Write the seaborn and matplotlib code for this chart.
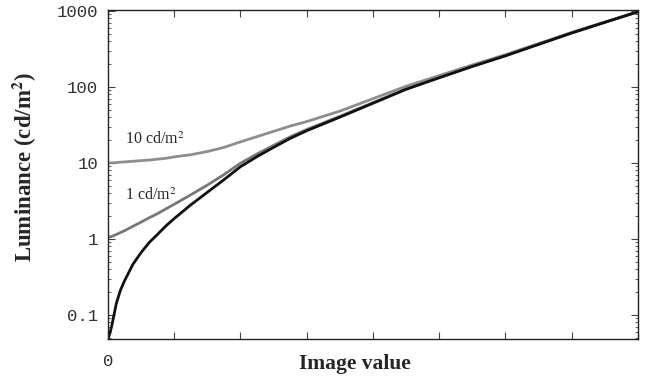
import numpy as np
import pandas as pd
import matplotlib
matplotlib.use("Agg")
import matplotlib.pyplot as plt
import seaborn as sns
from matplotlib.ticker import LogLocator, FixedLocator, NullFormatter, FixedFormatter

sns.set_style("ticks")
plt.rcParams["font.family"] = ["Liberation Serif", "DejaVu Serif"]
plt.rcParams["mathtext.fontset"] = "stix"

# image value samples and luminance
image_value = [0, 1, 2, 4, 6, 8, 12, 16, 20, 24, 28, 32, 40, 48, 56, 64, 72,
               80, 88, 96, 112, 128, 144, 160, 176, 192, 208, 224, 240, 256]
lum_dark = [0.048, 0.058, 0.075, 0.14, 0.21, 0.28, 0.46, 0.66, 0.9, 1.15,
            1.48, 1.85, 2.8, 4.1, 6.0, 8.9, 12.1, 16, 21, 26.5, 40, 61, 93,
            132, 186, 257, 363, 513, 708, 975]
lum_amb1 = [1.05, 1.06, 1.08, 1.14, 1.21, 1.28, 1.46, 1.66, 1.9, 2.15,
            2.48, 2.85, 3.8, 5.1, 7.0, 9.9, 13.1, 17, 22, 27.5, 41, 62, 94,
            133, 187, 258, 364, 514, 709, 976]
lum_amb10 = [10, 10.0, 10.0, 10.1, 10.2, 10.3, 10.5, 10.7, 10.9, 11.2,
             11.5, 12, 12.8, 14.1, 16, 18.9, 22.2, 26, 30.5, 35, 48, 70, 102,
             141, 195, 266, 372, 522, 717, 980]

df = pd.DataFrame({"x": image_value, "dark": lum_dark,
                   "amb1": lum_amb1, "amb10": lum_amb10})

fig = plt.figure(figsize=(6.45, 3.76), dpi=100)
ax = fig.add_axes([0.1674, 0.0984, 0.8216, 0.875])

sns.lineplot(data=df, x="x", y="amb10", ax=ax, color="#8e8e8e", lw=2.0)
sns.lineplot(data=df, x="x", y="amb1", ax=ax, color="#777777", lw=2.0)
sns.lineplot(data=df, x="x", y="dark", ax=ax, color="#111111", lw=2.0)

ax.set_yscale("log")
ax.set_xlim(0, 256)
ax.set_ylim(0.048, 1030)

ax.xaxis.set_major_locator(FixedLocator(list(range(0, 257, 32))))
ax.xaxis.set_major_formatter(FixedFormatter(["0"] + [""] * 8))
ax.yaxis.set_major_locator(FixedLocator([0.1, 1, 10, 100, 1000]))
ax.yaxis.set_major_formatter(FixedFormatter(["0.1", "1", "10", "100", "1000"]))
ax.yaxis.set_minor_locator(LogLocator(base=10, subs=np.arange(2, 10)))
ax.yaxis.set_minor_formatter(NullFormatter())

ax.tick_params(axis="both", which="both", direction="in", top=True, right=True,
               color="#444444")
ax.tick_params(axis="both", which="major", length=5, width=0.8)
ax.tick_params(axis="y", which="minor", length=2.5, width=0.6)
ax.tick_params(axis="y", which="major", pad=7)
ax.tick_params(axis="x", which="major", pad=11)
for lab in ax.get_xticklabels() + ax.get_yticklabels():
    lab.set_family(["Liberation Mono", "DejaVu Sans Mono"])
    lab.set_fontsize(12.5)
    lab.set_color("#333333")
for sp in ax.spines.values():
    sp.set_color("#222222")
    sp.set_linewidth(1.0)

ax.set_xlabel("Image value", fontsize=15.5, fontweight="bold")
ax.xaxis.set_label_coords(0.466, -0.045)
ax.set_ylabel("Luminance (cd/m$^\\mathbf{2}$)", fontsize=16.5, fontweight="bold")
ax.yaxis.set_label_coords(-0.13, 0.523)

ax.text(8, 17.5, "10 cd/m$^2$", fontsize=11.5)
ax.text(8, 3.2, "1 cd/m$^2$", fontsize=11.5)

fig.savefig("out.png", dpi=100)
